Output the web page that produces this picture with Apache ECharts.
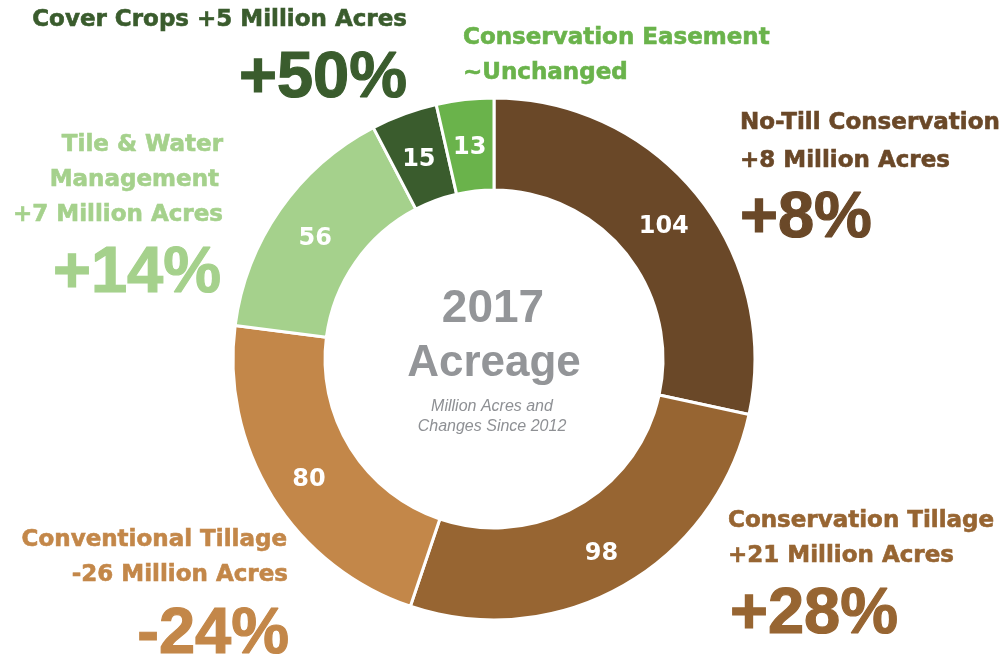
<!DOCTYPE html>
<html>
<head>
<meta charset="utf-8">
<script src="https://cdn.jsdelivr.net/npm/echarts@6/dist/echarts.min.js"></script>
<style>
  html, body { margin: 0; padding: 0; background: #ffffff; }
  #chart { width: 1002px; height: 663px; }
</style>
</head>
<body>
<div id="chart"></div>
<script>
// ---- data ----
const categories = ['No-Till Conservation', 'Conservation Tillage', 'Conventional Tillage', 'Tile & Water Management', 'Cover Crops', 'Conservation Easement'];
const acreage2017 = [104, 98, 80, 56, 15, 13];
const changeAcres = ['+8 Million Acres', '+21 Million Acres', '-26 Million Acres', '+7 Million Acres', '+5 Million Acres', '~Unchanged'];
const changePct = ['+8%', '+28%', '-24%', '+14%', '+50%', ''];
const centerTitle = ['2017', 'Acreage'];
const centerNote = ['Million Acres and', 'Changes Since 2012'];

// ---- styles ----
const sliceColors = ['#6A4828', '#976532', '#C38749', '#A5D18C', '#3A5C2D', '#6AB34B'];
const textColors  = ['#6A4828', '#976532', '#C38749', '#A5D18C', '#3A5C2D', '#6AB34B'];
const grey = '#939598';
const LBL = 'DejaVu Sans';
const BIG = 'Liberation Sans';

function txt(text, x, y, color, size, align, family, weight, style, thicken) {
  const st = {
    text: text, fill: color,
    fontSize: size, fontFamily: family || LBL, fontWeight: weight || 'bold',
    fontStyle: style || 'normal',
    textAlign: align || 'left', textVerticalAlign: 'middle'
  };
  if (thicken) { st.stroke = color; st.lineWidth = thicken; }
  return { type: 'text', x: x, y: y, silent: true, style: st };
}

const graphics = [
  // Cover Crops (index 4)
  txt(categories[4] + ' ' + changeAcres[4], 407, 20, textColors[4], 23, 'right', LBL, 'bold', 'normal', 0.6),
  txt(changePct[4], 407, 79, textColors[4], 65, 'right', BIG, 'bold', 'normal', 1.2),
  // Conservation Easement (index 5)
  txt(categories[5], 463, 38, textColors[5], 23, 'left', LBL, 'bold', 'normal', 0.6),
  txt(changeAcres[5], 463, 73, textColors[5], 23, 'left', LBL, 'bold', 'normal', 0.6),
  // No-Till (index 0)
  txt(categories[0], 740, 123, textColors[0], 23, 'left', LBL, 'bold', 'normal', 0.6),
  txt(changeAcres[0], 740, 161, textColors[0], 23, 'left', LBL, 'bold', 'normal', 0.6),
  txt(changePct[0], 740, 219, textColors[0], 65, 'left', BIG, 'bold', 'normal', 1.2),
  // Tile & Water (index 3)
  txt('Tile & Water', 223, 145, textColors[3], 23, 'right', LBL, 'bold', 'normal', 0.6),
  txt('Management', 219, 180, textColors[3], 23, 'right', LBL, 'bold', 'normal', 0.6),
  txt(changeAcres[3], 223, 215, textColors[3], 23, 'right', LBL, 'bold', 'normal', 0.6),
  txt(changePct[3], 221, 274, textColors[3], 65, 'right', BIG, 'bold', 'normal', 1.2),
  // Conventional Tillage (index 2)
  txt(categories[2], 287, 540, textColors[2], 23, 'right', LBL, 'bold', 'normal', 0.6),
  txt(changeAcres[2], 288, 575, textColors[2], 23, 'right', LBL, 'bold', 'normal', 0.6),
  txt(changePct[2], 289, 635, textColors[2], 65, 'right', BIG, 'bold', 'normal', 1.2),
  // Conservation Tillage (index 1)
  txt(categories[1], 728, 521, textColors[1], 23, 'left', LBL, 'bold', 'normal', 0.6),
  txt(changeAcres[1], 728, 556, textColors[1], 23, 'left', LBL, 'bold', 'normal', 0.6),
  txt(changePct[1], 730, 615, textColors[1], 65, 'left', BIG, 'bold', 'normal', 1.2),
  // center
  txt(centerTitle[0], 493, 309, grey, 46, 'center', BIG),
  txt(centerTitle[1], 494, 364, grey, 44, 'center', BIG),
  txt(centerNote[0], 492, 407, '#8E9094', 16, 'center', BIG, 'normal', 'italic'),
  txt(centerNote[1], 492, 427, '#8E9094', 16, 'center', BIG, 'normal', 'italic')
];

const chart = echarts.init(document.getElementById('chart'), null, { renderer: 'canvas' });
chart.setOption({
  animation: false,
  backgroundColor: '#ffffff',
  series: [{
    type: 'pie',
    center: [494, 359],
    radius: [169, 261],
    startAngle: 90,
    clockwise: true,
    avoidLabelOverlap: false,
    silent: true,
    itemStyle: { borderColor: '#ffffff', borderWidth: 3 },
    label: {
      show: true, position: 'inside', formatter: '{c}', offset: [0, 5],
      color: '#ffffff', fontFamily: LBL, fontWeight: 'bold', fontSize: 24
    },
    labelLine: { show: false },
    emphasis: { disabled: true },
    data: categories.map((c, i) => ({ name: c, value: acreage2017[i], itemStyle: { color: sliceColors[i] } }))
  }],
  graphic: graphics
});
</script>
</body>
</html>
